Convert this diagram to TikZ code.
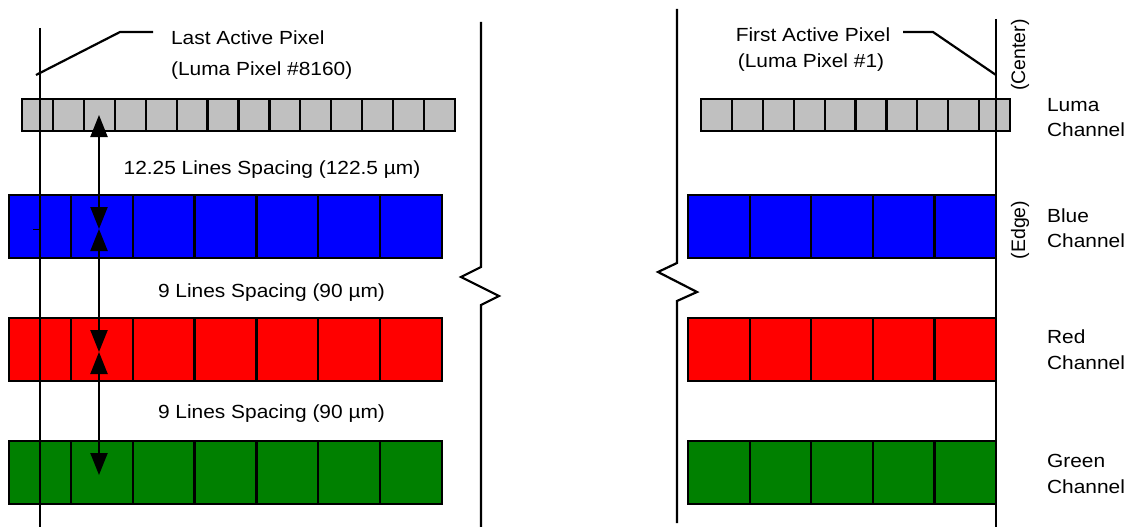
\documentclass[tikz,border=0pt]{standalone}
\usepackage{fontspec}
\setmainfont{Liberation Sans}[FakeStretch=1.1]
\newfontfamily\rotfont{Liberation Sans}
\usetikzlibrary{arrows.meta}
\definecolor{lumagray}{RGB}{192,192,192}
\definecolor{pixblue}{RGB}{0,0,255}
\definecolor{pixred}{RGB}{255,0,0}
\definecolor{pixgreen}{RGB}{0,128,0}
\begin{document}
\begin{tikzpicture}[x=1pt,y=-1pt,line width=2.2pt,
  lbl/.style={inner sep=0pt,font=\fontsize{19}{23}\selectfont},
  rotlbl/.style={inner sep=0pt,rotate=90,font=\rotfont\fontsize{19.5}{23}\selectfont},
  cell/.style={draw=black,line width=2.2pt},
  guide/.style={draw=black,line width=2.2pt},
  dimarrow/.style={{Triangle[length=22pt,width=17pt]}-{Triangle[length=22pt,width=17pt]},line width=2.2pt}]
\useasboundingbox (0,0) rectangle (1125,527);

% left luma row
\foreach \i in {0,...,13}
  \draw[cell,fill=lumagray] ({22+\i*30.93},99) rectangle ({22+(\i+1)*30.93},131);
% right luma row
\foreach \i in {0,...,9}
  \draw[cell,fill=lumagray] ({701+\i*30.9},99) rectangle ({701+(\i+1)*30.9},131);

% colour rows
\foreach \c/\ya/\yb in {pixblue/195/258, pixred/318/381, pixgreen/441/504}{
  \foreach \i in {0,...,6}
    \draw[cell,fill=\c] ({9+\i*61.86},\ya) rectangle ({9+(\i+1)*61.86},\yb);
  \foreach \i in {0,...,4}
    \draw[cell,fill=\c] ({688+\i*61.6},\ya) rectangle ({688+(\i+1)*61.6},\yb);
}

% vertical guide lines
\coordinate (lt) at (40,28);
\coordinate (lb) at (40,527);
\draw[guide] (lt) -- (lb);
\coordinate (c1) at (996,19);
\coordinate (c2) at (996,527);
\draw[guide] (c1) -- (c2);

% break lines
\coordinate (b1) at (481,22);
\coordinate (b2) at (481,267);
\coordinate (b3) at (461,277);
\coordinate (b4) at (499,296);
\coordinate (b5) at (481,305);
\coordinate (b6) at (481,527);
\draw[guide,line join=miter] (b1) -- (b2) -- (b3) -- (b4) -- (b5) -- (b6);
\coordinate (r1) at (677,9);
\coordinate (r2) at (677,263);
\coordinate (r3) at (658,272);
\coordinate (r4) at (697,292);
\coordinate (r5) at (677,301);
\coordinate (r6) at (677,523);
\draw[guide,line join=miter] (r1) -- (r2) -- (r3) -- (r4) -- (r5) -- (r6);

% small tick
\coordinate (t1) at (33,229);
\coordinate (t2) at (40,229);
\draw[line width=1pt] (t1) -- (t2);

% spacing arrows
\coordinate (a0) at (99,115);
\coordinate (a1) at (99,229);
\coordinate (a2) at (99,352);
\coordinate (a3) at (99,475);
\draw[dimarrow] (a0) -- (a1);
\draw[dimarrow] (a1) -- (a2);
\draw[dimarrow] (a2) -- (a3);

% leaders
\coordinate (l1) at (36,75);
\coordinate (l2) at (120,32);
\coordinate (l3) at (153,32);
\draw[guide] (l1) -- (l2) -- (l3);
\coordinate (f1) at (903,32);
\coordinate (f2) at (933,32);
\coordinate (f3) at (996,75);
\draw[guide] (f1) -- (f2) -- (f3);

% texts
\node[lbl,anchor=base west] (lap1) at (170,45) {Last Active Pixel};
\node[lbl,anchor=base west] (lap2) at (170,76) {(Luma Pixel \#8160)};
\node[lbl,anchor=base] (fap1) at (813,42) {First Active Pixel};
\node[lbl,anchor=base] (fap2) at (811,68) {(Luma Pixel \#1)};
\node[lbl,anchor=base] (s1) at (272,174) {12.25 Lines Spacing (122.5 µm)};
\node[lbl,anchor=base] (s2) at (271.5,297) {9 Lines Spacing (90 µm)};
\node[lbl,anchor=base] (s3) at (271.5,418) {9 Lines Spacing (90 µm)};
\node[rotlbl] (cen) at (1020,55) {(Center)};
\node[rotlbl] (edg) at (1020,230) {(Edge)};

\node[lbl,anchor=base west] (lu1) at (1046,111) {Luma};
\node[lbl,anchor=base west] (lu2) at (1046,136) {Channel};
\node[lbl,anchor=base west] (bl1) at (1046,222) {Blue};
\node[lbl,anchor=base west] (bl2) at (1046,247) {Channel};
\node[lbl,anchor=base west] (re1) at (1046,343) {Red};
\node[lbl,anchor=base west] (re2) at (1046,369) {Channel};
\node[lbl,anchor=base west] (gr1) at (1046,467) {Green};
\node[lbl,anchor=base west] (gr2) at (1046,493) {Channel};
\end{tikzpicture}
\end{document}
